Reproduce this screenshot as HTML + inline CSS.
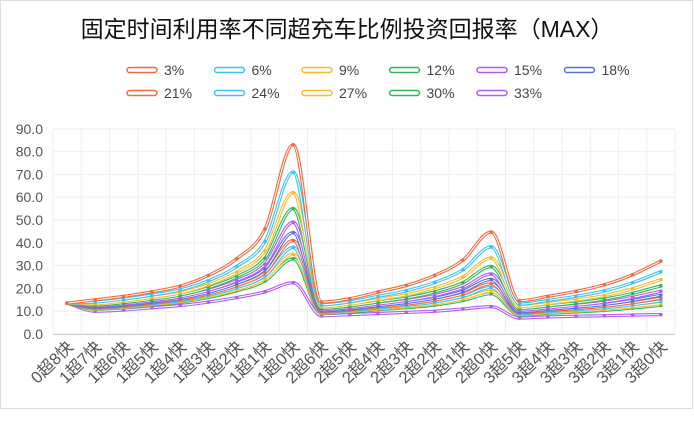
<!DOCTYPE html><html><head><meta charset="utf-8"><style>
body{margin:0;background:#fff;width:694px;height:420px;overflow:hidden;font-family:"Liberation Sans","Noto Sans CJK SC",sans-serif}
</style></head><body>
<svg id="s" width="694" height="420" xmlns="http://www.w3.org/2000/svg" font-family="Liberation Sans, Noto Sans CJK SC, sans-serif"></svg>
<script>
const s=document.getElementById('s');let h='';
h+='<rect x="0.5" y="0.5" width="692" height="408" fill="#fff" stroke="#ddd"/>';
h+='<text x="347" y="37" font-size="23" text-anchor="middle" fill="#111">固定时间利用率不同超充车比例投资回报率（MAX）</text>';
const cols=['#ee6a3f','#3cc3f0','#f5bd2c','#2db85c','#b35cf0','#5670e0'];
const names=['3%','6%','9%','12%','15%','18%','21%','24%','27%','30%','33%'];
const peaks=[83,71,62,55,49,44.5,41,38,35,33,22.5];
const T=[13.5,15,16.5,18.5,21,25.7,33,46,83,14,15.5,18.4,21.3,25.7,32.4,44.7,14.6,16.5,18.7,21.6,26,32];
const B=[13.5,10,10.5,11.5,12.5,14,16,18.5,22.5,8,8.5,9,9.5,10,11,12,7,7.5,7.8,8,8.3,8.5];
const cats=['0超8快','1超7快','1超6快','1超5快','1超4快','1超3快','1超2快','1超1快','1超0快','2超6快','2超5快','2超4快','2超3快','2超2快','2超1快','2超0快','3超5快','3超4快','3超3快','3超2快','3超1快','3超0快'];
const X=i=>67+i*28.28, Y=v=>334-v*2.28;
for(let k=0;k<=9;k++){const y=Y(k*10);h+=`<line x1="53" x2="675" y1="${y}" y2="${y}" stroke="#eee"/>`;h+=`<text x="43" y="${y+5}" font-size="14" text-anchor="end" fill="#555">${(k*10).toFixed(1)}</text>`;}
for(let k=0;k<=22;k++){const x=53+k*28.28;h+=`<line x1="${x}" x2="${x}" y1="129" y2="334" stroke="#eee"/>`;}
h+='<line x1="53" x2="675" y1="334.5" y2="334.5" stroke="#ccc"/>';
cats.forEach((c,i)=>{h+=`<text transform="translate(${X(i)+7},348) rotate(-45)" font-size="16.5" text-anchor="end" fill="#555">${c}</text>`;});
function path(p){const n=p.length,dx=[],m=[],tg=[];
for(let i=0;i<n-1;i++){dx[i]=p[i+1][0]-p[i][0];m[i]=(p[i+1][1]-p[i][1])/dx[i];}
tg[0]=m[0];tg[n-1]=m[n-2];
for(let i=1;i<n-1;i++){tg[i]=(m[i-1]*m[i]<=0)?0:(m[i-1]+m[i])/2;}
for(let i=0;i<n-1;i++){if(m[i]===0){tg[i]=tg[i+1]=0;continue;}const a=tg[i]/m[i],b=tg[i+1]/m[i],q=a*a+b*b;if(q>9){const t=3/Math.sqrt(q);tg[i]=t*a*m[i];tg[i+1]=t*b*m[i];}}
let d=`M${p[0][0]},${p[0][1]}`;
for(let i=0;i<n-1;i++){const h3=dx[i]/3;d+=` C${p[i][0]+h3},${p[i][1]+tg[i]*h3} ${p[i+1][0]-h3},${p[i+1][1]-tg[i+1]*h3} ${p[i+1][0]},${p[i+1][1]}`;}return d;}
for(let si=names.length-1;si>=0;si--){const t=(peaks[si]-22.5)/(83-22.5);const c=cols[si%6];
const pts=T.map((v,i)=>[X(i),Y(B[i]+t*(v-B[i]))]);const d=path(pts);
h+=`<path d="${d}" fill="none" stroke="${c}" stroke-width="3.2"/><path d="${d}" fill="none" stroke="#fff" stroke-width="1"/>`;
pts.forEach(p=>h+=`<circle cx="${p[0]}" cy="${p[1]}" r="1.8" fill="${c}"/>`);}
names.forEach((n,i)=>{const r=i<6?0:1,j=i<6?i:i-6;const x=127+j*87.5,y=70+r*23;const c=cols[i%6];
h+=`<rect x="${x}" y="${y-2.5}" width="30" height="5" rx="2.5" fill="#fff" stroke="${c}" stroke-width="1.5"/>`;
h+=`<text x="${x+37}" y="${y+5}" font-size="14" fill="#444">${n}</text>`;});
s.innerHTML=h;
</script></body></html>
